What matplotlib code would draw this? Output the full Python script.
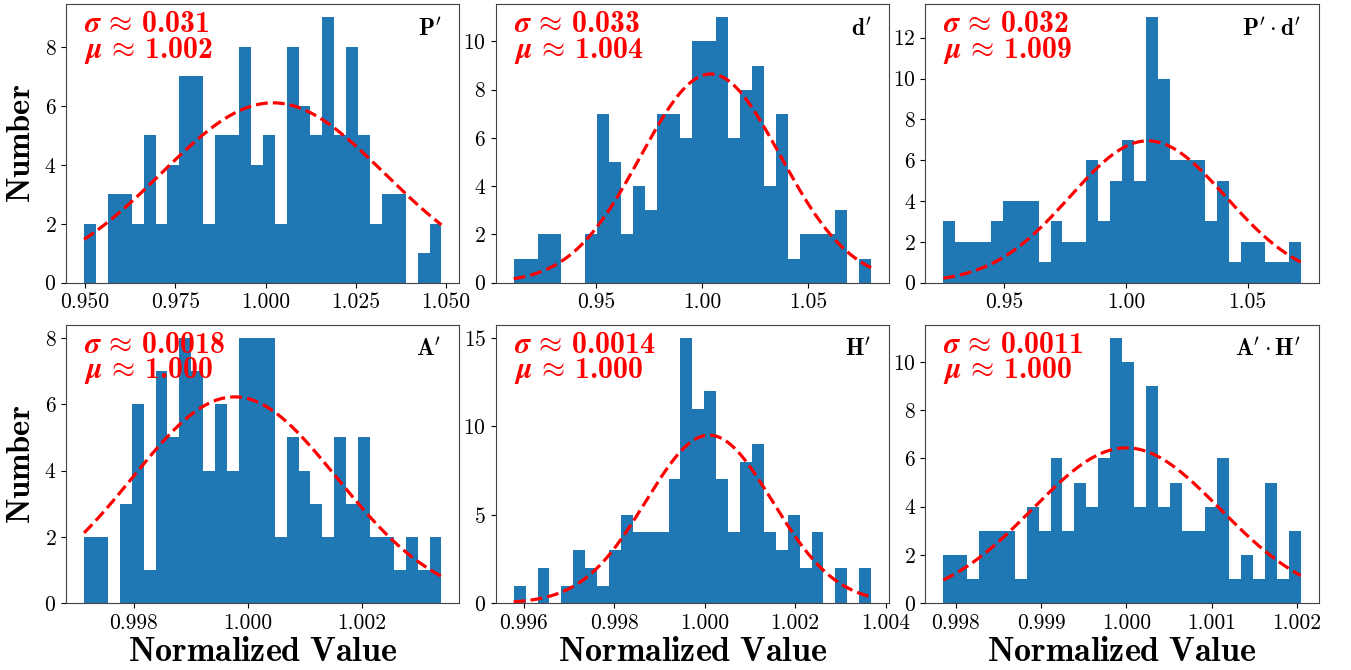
import numpy as np
import matplotlib
matplotlib.use("Agg")
import matplotlib.pyplot as plt
from matplotlib.ticker import MaxNLocator

plt.rcParams['font.family'] = 'serif'
plt.rcParams['font.serif'] = ['cmr10', 'DejaVu Serif']
plt.rcParams['mathtext.fontset'] = 'cm'
plt.rcParams['axes.formatter.use_mathtext'] = True
plt.rcParams['axes.unicode_minus'] = False

# --- histogram counts (30 bins each) ---
counts_P = [2, 0, 3, 3, 2, 5, 2, 4, 7, 7, 2, 5, 5, 8, 4, 5, 2, 8, 6, 5, 9, 5, 8, 5, 2, 3, 3, 0, 1, 2]
counts_d = [1, 1, 2, 2, 0, 0, 2, 7, 5, 2, 4, 3, 7, 7, 6, 10, 10, 11, 6, 8, 9, 4, 7, 1, 2, 2, 2, 3, 0, 1]
counts_Pd = [3, 2, 2, 2, 3, 4, 4, 4, 1, 3, 2, 2, 6, 3, 5, 7, 5, 13, 10, 6, 6, 6, 3, 5, 1, 2, 2, 1, 1, 2]
counts_A = [2, 2, 0, 3, 6, 1, 7, 5, 8, 7, 4, 6, 4, 8, 8, 8, 2, 5, 4, 3, 2, 5, 3, 5, 2, 2, 1, 2, 1, 2]
counts_H = [1, 0, 2, 0, 1, 3, 2, 1, 3, 5, 4, 4, 4, 7, 15, 11, 12, 7, 4, 8, 9, 4, 3, 5, 2, 4, 0, 2, 0, 2]
counts_AH = [2, 2, 1, 3, 3, 3, 1, 4, 3, 6, 3, 5, 4, 6, 11, 10, 4, 9, 4, 5, 3, 3, 4, 6, 1, 2, 1, 5, 1, 3]

# histogram range (first and last bin edge)
range_P = (0.9497, 1.0487)
range_d = (0.9111, 1.0797)
range_Pd = (0.9250, 1.0718)
range_A = (0.99713, 1.00340)
range_H = (0.99578, 1.00368)
range_AH = (0.997856, 1.002043)

# gaussian fit: amplitude, mean, sigma
fit_P = (6.10, 1.002, 0.031)
fit_d = (8.65, 1.004, 0.033)
fit_Pd = (6.95, 1.009, 0.032)
fit_A = (6.22, 0.99977, 0.0018)
fit_H = (9.50, 1.0001, 0.0014)
fit_AH = (6.44, 1.0000, 0.0011)

sigma_text = ["0.031", "0.033", "0.032", "0.0018", "0.0014", "0.0011"]
mu_text = ["1.002", "1.004", "1.009", "1.000", "1.000", "1.000"]
names = [r"$\mathbf{P'}$", r"$\mathbf{d'}$", r"$\mathbf{P'\cdot d'}$",
         r"$\mathbf{A'}$", r"$\mathbf{H'}$", r"$\mathbf{A'\cdot H'}$"]

xticks = [[0.950, 0.975, 1.000, 1.025, 1.050],
          [0.95, 1.00, 1.05],
          [0.95, 1.00, 1.05],
          [0.998, 1.000, 1.002],
          [0.996, 0.998, 1.000, 1.002, 1.004],
          [0.998, 0.999, 1.000, 1.001, 1.002]]
xfmt = ["%.3f", "%.2f", "%.2f", "%.3f", "%.3f", "%.3f"]

all_counts = [counts_P, counts_d, counts_Pd, counts_A, counts_H, counts_AH]
all_ranges = [range_P, range_d, range_Pd, range_A, range_H, range_AH]
all_fits = [fit_P, fit_d, fit_Pd, fit_A, fit_H, fit_AH]

fig = plt.figure(figsize=(13.51, 6.70), dpi=100)
lefts = [0.049, 0.367, 0.685]
bottoms = [0.578, 0.0996]
w, h = 0.291, 0.416

for i in range(6):
    row, col = divmod(i, 3)
    ax = fig.add_axes([lefts[col], bottoms[row], w, h])
    lo, hi = all_ranges[i]
    edges = np.linspace(lo, hi, len(all_counts[i]) + 1)
    centers = 0.5 * (edges[:-1] + edges[1:])
    ax.hist(centers, bins=edges, weights=all_counts[i], color='#1f77b4')

    amp, mu, sig = all_fits[i]
    xs = np.linspace(lo, hi, 300)
    ax.plot(xs, amp * np.exp(-0.5 * ((xs - mu) / sig) ** 2), 'r--', linewidth=2.3)

    txt = (r"$\boldsymbol{\sigma}\,\approx\,$%s" "\n" r"$\boldsymbol{\mu}\,\approx\,$%s"
           % (sigma_text[i], mu_text[i]))
    ax.text(0.045, 0.975, txt, transform=ax.transAxes, color='red', fontsize=21.5,
            fontfamily='cmb10', va='top', ha='left', linespacing=0.82)
    ax.text(0.955, 0.95, names[i], transform=ax.transAxes, fontsize=17,
            va='top', ha='right')

    ax.set_xticks(xticks[i])
    ax.set_xticklabels([xfmt[i] % t for t in xticks[i]])
    ax.yaxis.set_major_locator(MaxNLocator(nbins=7, steps=[1, 2, 5, 10], integer=True))
    ax.tick_params(labelsize=15.5)
    for sp in ax.spines.values():
        sp.set_color('#444444')

    if col == 0:
        ax.set_ylabel(r"$\mathbf{Number}$", fontsize=23.5, labelpad=6)
    if row == 1:
        ax.set_xlabel(r"$\mathbf{Normalized\ Value}$", fontsize=24.5, labelpad=4)

fig.savefig("out.png", dpi=100)
